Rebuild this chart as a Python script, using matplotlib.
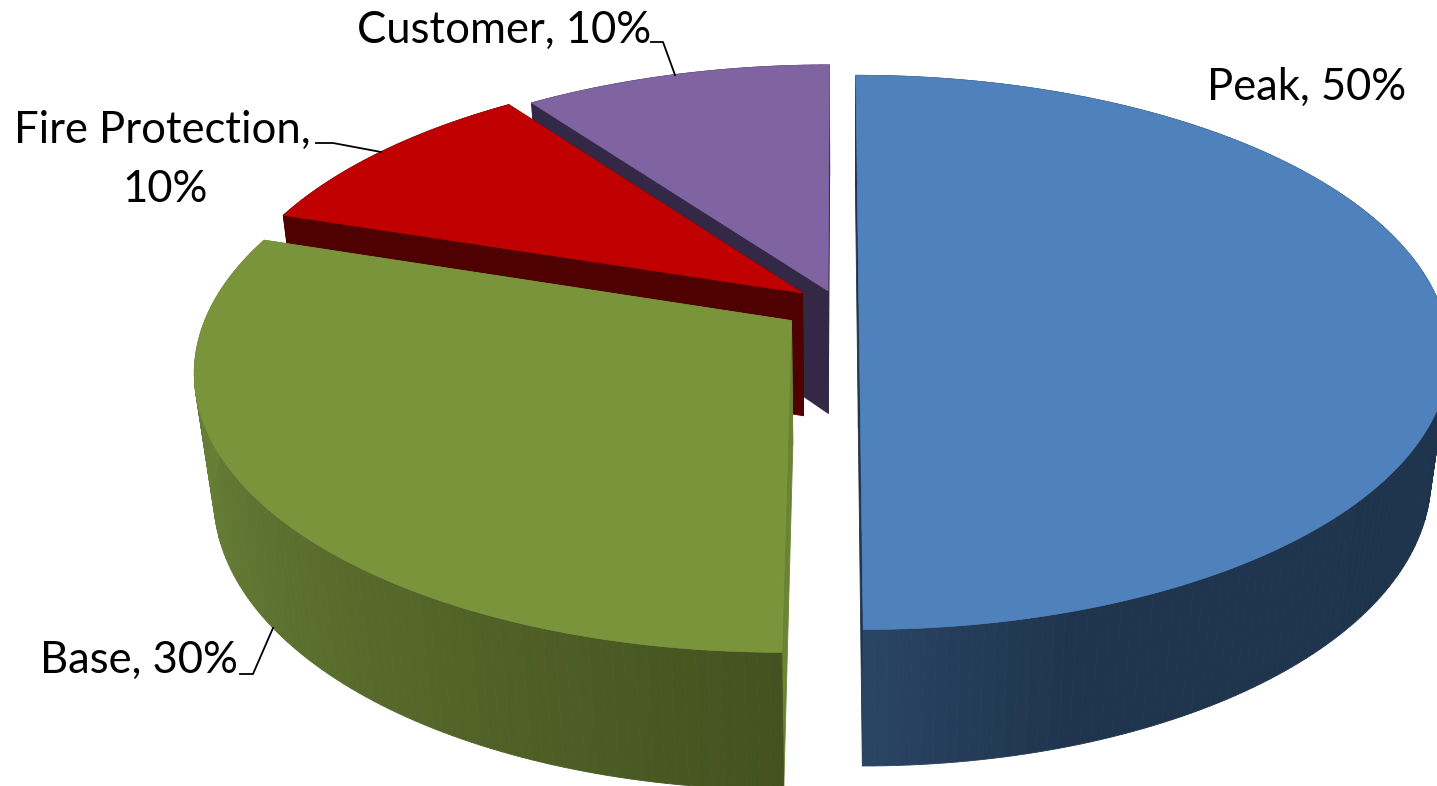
import numpy as np
import matplotlib
matplotlib.use("Agg")
import matplotlib.pyplot as plt

categories = ["Peak", "Base", "Fire Protection", "Customer"]
values = [50, 30, 10, 10]
explode = [0.036, 0.098, 0.076, 0.056]
top_colors = ["#4F81BD", "#7A943C", "#C00000", "#8064A2"]
cut_colors = ["#1F344D", "#6B8434", "#4F0000", "#332845"]

# wall shade stops: angle clockwise from 12 o'clock, then rgb
wall_angles = {
    "Peak": [0, 100, 162, 180],
    "Base": [180, 215, 250, 288],
    "Fire Protection": [288, 324],
    "Customer": [324, 360],
}
wall_shades = {
    "Peak": ["#1E334C", "#1E334C", "#1F344D", "#2A4464"],
    "Base": ["#435220", "#556729", "#647C35", "#6B8438"],
    "Fire Protection": ["#4F0000", "#4F0000"],
    "Customer": ["#332845", "#332845"],
}

# camera for the tilted disc
cx, cy = 838, 305
S = 581
Sq = 269
depth = 127
k = 0.171
m = 0.03


def project(X, Y, z):
    w = 1 + k * Y + m * z
    return cx + S * X / w, cy + (-Sq * Y + depth * z) / w


def hex2rgb(c):
    return np.array(matplotlib.colors.to_rgb(c))


def rim(theta, off):
    t = np.radians(theta)
    return np.sin(t) + off[0], np.cos(t) + off[1]


def quad(ax, p, color):
    xs = [q[0] for q in p]
    ys = [q[1] for q in p]
    ax.fill(xs, ys, color=color, lw=0.6, zorder=2)


fig = plt.figure(figsize=(14.37, 7.86), dpi=100)
ax = fig.add_axes([0, 0, 1, 1])
ax.set_xlim(0, 1437)
ax.set_ylim(786, 0)
ax.axis("off")

edges = np.concatenate([[0], np.cumsum(values)]) * 360 / np.sum(values)

# back slices first so the nearer ones overlap them
for i in [3, 2, 1, 0]:
    a0, a1 = edges[i], edges[i + 1]
    mid = np.radians((a0 + a1) / 2)
    off = (explode[i] * np.sin(mid), explode[i] * np.cos(mid))
    angs = np.arange(a0, a1 + 0.5, 1.0)

    # cut faces
    for a in [a0, a1]:
        X, Y = rim(a, off)
        quad(ax, [project(off[0], off[1], 0), project(X, Y, 0),
                  project(X, Y, 1), project(off[0], off[1], 1)], cut_colors[i])

    # outer wall, one strip per degree
    stops = np.array([hex2rgb(c) for c in wall_shades[categories[i]]])
    for a, b in zip(angs[:-1], angs[1:]):
        amid = (a + b) / 2
        col = [np.interp(amid, wall_angles[categories[i]], stops[:, j]) for j in range(3)]
        Xa, Ya = rim(a, off)
        Xb, Yb = rim(b, off)
        quad(ax, [project(Xa, Ya, 0), project(Xb, Yb, 0),
                  project(Xb, Yb, 1), project(Xa, Ya, 1)], col)

    # top face
    pts = [project(off[0], off[1], 0)]
    for a in angs:
        X, Y = rim(a, off)
        pts.append(project(X, Y, 0))
    ax.fill([p[0] for p in pts], [p[1] for p in pts], color=top_colors[i], lw=0.5, zorder=2)

# leader lines
leaders = [
    ([651, 663, 675], [42, 42, 75]),
    ([316, 333, 381], [143, 143, 152]),
    ([240, 253, 273], [674, 674, 628]),
]
for lx, ly in leaders:
    ax.plot(lx, ly, color="black", lw=1.3, zorder=3)

fs = 31.4
ax.text(1207, 100, f"{categories[0]}, {values[0]}%", fontsize=fs, family="Lato", color="black")
ax.text(40, 673, f"{categories[1]}, {values[1]}%", fontsize=fs, family="Lato", color="black")
ax.text(14, 143, f"{categories[2]},", fontsize=fs, family="Lato", color="black")
ax.text(122, 202, f"{values[2]}%", fontsize=fs, family="Lato", color="black")
ax.text(357, 43, f"{categories[3]}, {values[3]}%", fontsize=fs, family="Lato", color="black")

fig.savefig("out.png", dpi=100)
